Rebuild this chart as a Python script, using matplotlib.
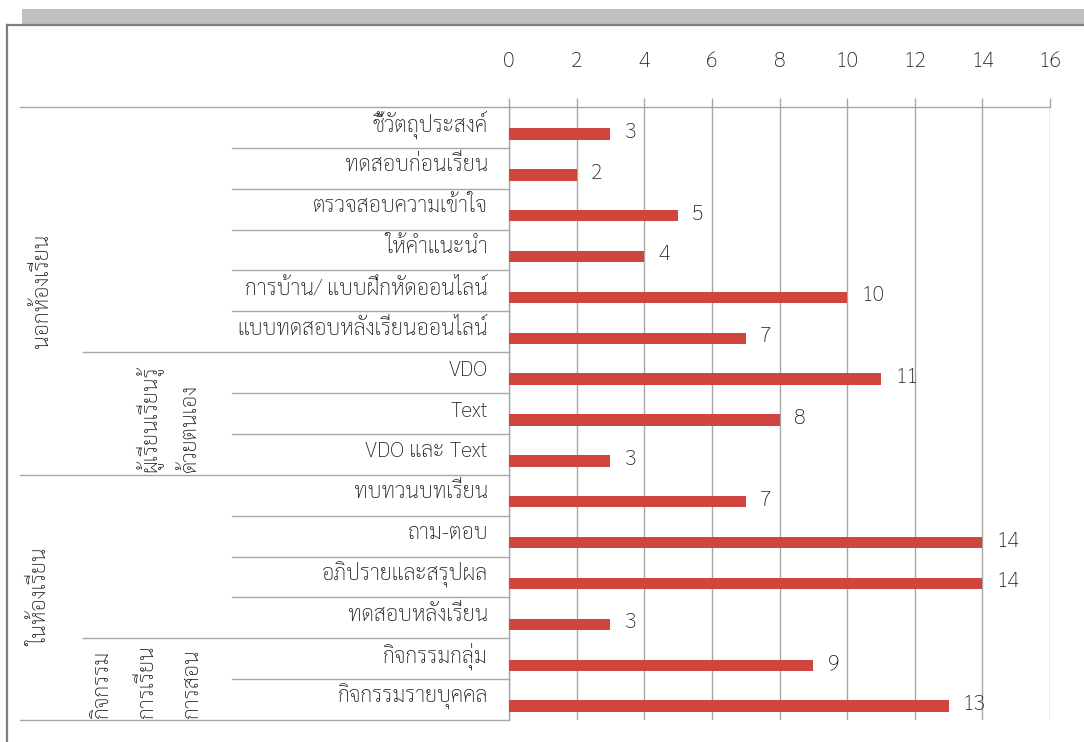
import matplotlib
matplotlib.use("Agg")
import numpy as np
import matplotlib.pyplot as plt
import matplotlib.transforms as mtransforms
from matplotlib.patches import Rectangle
from matplotlib.lines import Line2D

plt.rcParams['font.family'] = ['Sarabun', 'Noto Sans Thai Looped', 'IBM Plex Sans Thai Looped', 'DejaVu Sans']
plt.rcParams['font.weight'] = 'light'

# Category levels (top to bottom)
items = ['ชี้วัตถุประสงค์', 'ทดสอบก่อนเรียน', 'ตรวจสอบความเข้าใจ', 'ให้คำแนะนำ',
         'การบ้าน/ แบบฝึกหัดออนไลน์', 'แบบทดสอบหลังเรียนออนไลน์',
         'VDO', 'Text', 'VDO และ Text',
         'ทบทวนบทเรียน', 'ถาม-ตอบ', 'อภิปรายและสรุปผล', 'ทดสอบหลังเรียน',
         'กิจกรรมกลุ่ม', 'กิจกรรมรายบุคคล']
values = [3, 2, 5, 4, 10, 7, 11, 8, 3, 7, 14, 14, 3, 9, 13]

# (label lines, first row, last row + 1)
sub_groups = [([], 0, 6),
              (['ผู้เรียนเรียนรู้', 'ด้วยตนเอง'], 6, 9),
              ([], 9, 13),
              (['กิจกรรม', 'การเรียน', 'การสอน'], 13, 15)]
main_groups = [('นอกห้องเรียน', 0, 9), ('ในห้องเรียน', 9, 15)]

x_ticks = np.arange(0, 17, 2)

W, H = 1084, 742
BAR_COLOR = '#D0463F'
GRID = '#A6A6A6'
TXT = '#1A1A1A'
FS = 15.5


def fx(px):
    return px / W


def fy(py):
    return 1 - py / H


fig = plt.figure(figsize=(W / 100, H / 100), dpi=100)

# frame decoration
fig.patches.append(Rectangle((fx(22), fy(25)), 1, 16 / H, transform=fig.transFigure,
                             facecolor='#BFBFBF', edgecolor='none'))
fig.lines.append(Line2D([fx(7), 1], [fy(25), fy(25)], transform=fig.transFigure,
                        color='#7F7F7F', lw=1.6))
fig.lines.append(Line2D([fx(7), fx(7)], [fy(25), 0], transform=fig.transFigure,
                        color='#7F7F7F', lw=1.6))

ax = fig.add_axes([fx(509), fy(720), fx(1050) - fx(509), (720 - 107) / H])
n = len(items)
rows = np.arange(n)
ax.barh(rows + 0.16, values, height=0.28, color=BAR_COLOR, zorder=3)
for r, v in zip(rows, values):
    ax.text(v + 0.42, r + 0.12, str(v), va='center', ha='left', fontsize=FS, color=TXT, zorder=4)

ax.set_xlim(0, 16)
ax.set_ylim(n - 0.5, -0.5)
ax.set_xticks(x_ticks)
ax.xaxis.tick_top()
ax.tick_params(axis='x', direction='out', length=6.5, width=1, color=GRID,
               labelsize=FS, labelcolor=TXT, pad=19)
ax.set_yticks([])
ax.grid(True, axis='x', color=GRID, lw=1, zorder=0)
for s in ['right', 'bottom']:
    ax.spines[s].set_visible(False)
for s in ['top', 'left']:
    ax.spines[s].set_color(GRID)
    ax.spines[s].set_linewidth(1)

# category labels and separators: x in figure fraction, y in row units
tr = mtransforms.blended_transform_factory(fig.transFigure, ax.transData)

for r, name in enumerate(items):
    fig.text(fx(488), r - 0.06, name, transform=tr, ha='right', va='center',
             fontsize=FS, color=TXT)

main_bounds = set()
for _, a, b in main_groups:
    main_bounds.update([a, b])
sub_bounds = set()
for _, a, b in sub_groups:
    sub_bounds.update([a, b])

for k in range(n + 1):
    if k in main_bounds:
        x0 = 20
    elif k in sub_bounds:
        x0 = 83
    else:
        x0 = 232
    fig.lines.append(Line2D([fx(x0), fx(509)], [k - 0.5, k - 0.5], transform=tr,
                            color=GRID, lw=1))

for lines, a, b in sub_groups:
    for i, line in enumerate(lines):
        xc = 148 + 42 * i if len(lines) == 2 else 102 + 45 * i
        fig.text(fx(xc), b - 0.5 - 0.06, line, transform=tr, rotation=90,
                 ha='center', va='bottom', fontsize=FS, color=TXT)

for name, a, b in main_groups:
    fig.text(fx(42), (a + b - 1) / 2, name, transform=tr, rotation=90,
             ha='center', va='center', fontsize=FS, color=TXT)

fig.savefig('out.png', dpi=100)
